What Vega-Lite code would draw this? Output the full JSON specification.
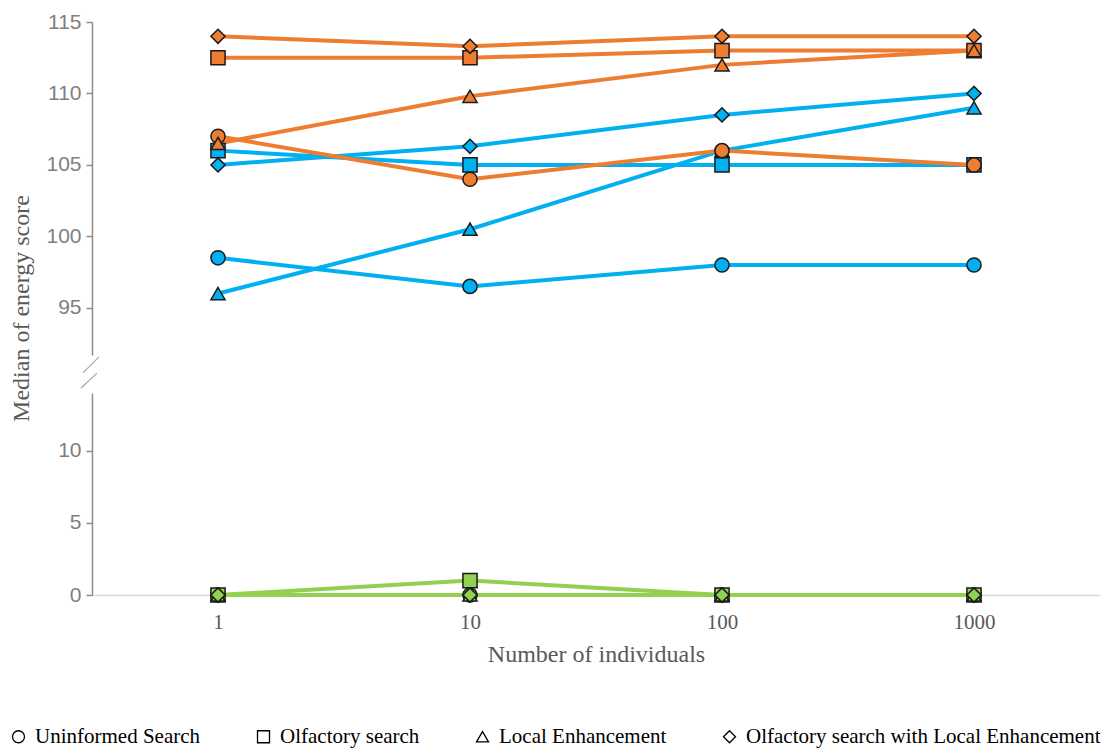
{
  "$schema": "https://vega.github.io/schema/vega-lite/v6.json",
  "padding": {"left": 8, "top": 11, "right": 4, "bottom": 4},
  "bounds": "flush",
  "spacing": 38,
  "config": {"view": {"stroke": null}, "font": "Liberation Serif"},
  "data": {
    "values": [
      {"group": "Group A", "strategy": "Uninformed Search", "n": 1, "score": 98.5},
      {"group": "Group A", "strategy": "Uninformed Search", "n": 10, "score": 96.5},
      {"group": "Group A", "strategy": "Uninformed Search", "n": 100, "score": 98},
      {"group": "Group A", "strategy": "Uninformed Search", "n": 1000, "score": 98},
      {"group": "Group A", "strategy": "Olfactory search", "n": 1, "score": 106},
      {"group": "Group A", "strategy": "Olfactory search", "n": 10, "score": 105},
      {"group": "Group A", "strategy": "Olfactory search", "n": 100, "score": 105},
      {"group": "Group A", "strategy": "Olfactory search", "n": 1000, "score": 105},
      {"group": "Group A", "strategy": "Local Enhancement", "n": 1, "score": 96},
      {"group": "Group A", "strategy": "Local Enhancement", "n": 10, "score": 100.5},
      {"group": "Group A", "strategy": "Local Enhancement", "n": 100, "score": 106},
      {"group": "Group A", "strategy": "Local Enhancement", "n": 1000, "score": 109},
      {"group": "Group A", "strategy": "Olfactory search with Local Enhancement", "n": 1, "score": 105},
      {"group": "Group A", "strategy": "Olfactory search with Local Enhancement", "n": 10, "score": 106.3},
      {"group": "Group A", "strategy": "Olfactory search with Local Enhancement", "n": 100, "score": 108.5},
      {"group": "Group A", "strategy": "Olfactory search with Local Enhancement", "n": 1000, "score": 110},
      {"group": "Group B", "strategy": "Uninformed Search", "n": 1, "score": 107},
      {"group": "Group B", "strategy": "Uninformed Search", "n": 10, "score": 104},
      {"group": "Group B", "strategy": "Uninformed Search", "n": 100, "score": 106},
      {"group": "Group B", "strategy": "Uninformed Search", "n": 1000, "score": 105},
      {"group": "Group B", "strategy": "Olfactory search", "n": 1, "score": 112.5},
      {"group": "Group B", "strategy": "Olfactory search", "n": 10, "score": 112.5},
      {"group": "Group B", "strategy": "Olfactory search", "n": 100, "score": 113},
      {"group": "Group B", "strategy": "Olfactory search", "n": 1000, "score": 113},
      {"group": "Group B", "strategy": "Local Enhancement", "n": 1, "score": 106.5},
      {"group": "Group B", "strategy": "Local Enhancement", "n": 10, "score": 109.8},
      {"group": "Group B", "strategy": "Local Enhancement", "n": 100, "score": 112},
      {"group": "Group B", "strategy": "Local Enhancement", "n": 1000, "score": 113},
      {"group": "Group B", "strategy": "Olfactory search with Local Enhancement", "n": 1, "score": 114},
      {"group": "Group B", "strategy": "Olfactory search with Local Enhancement", "n": 10, "score": 113.3},
      {"group": "Group B", "strategy": "Olfactory search with Local Enhancement", "n": 100, "score": 114},
      {"group": "Group B", "strategy": "Olfactory search with Local Enhancement", "n": 1000, "score": 114},
      {"group": "Group C", "strategy": "Uninformed Search", "n": 1, "score": 0},
      {"group": "Group C", "strategy": "Uninformed Search", "n": 10, "score": 0},
      {"group": "Group C", "strategy": "Uninformed Search", "n": 100, "score": 0},
      {"group": "Group C", "strategy": "Uninformed Search", "n": 1000, "score": 0},
      {"group": "Group C", "strategy": "Olfactory search", "n": 1, "score": 0},
      {"group": "Group C", "strategy": "Olfactory search", "n": 10, "score": 1},
      {"group": "Group C", "strategy": "Olfactory search", "n": 100, "score": 0},
      {"group": "Group C", "strategy": "Olfactory search", "n": 1000, "score": 0},
      {"group": "Group C", "strategy": "Local Enhancement", "n": 1, "score": 0},
      {"group": "Group C", "strategy": "Local Enhancement", "n": 10, "score": 0},
      {"group": "Group C", "strategy": "Local Enhancement", "n": 100, "score": 0},
      {"group": "Group C", "strategy": "Local Enhancement", "n": 1000, "score": 0},
      {"group": "Group C", "strategy": "Olfactory search with Local Enhancement", "n": 1, "score": 0},
      {"group": "Group C", "strategy": "Olfactory search with Local Enhancement", "n": 10, "score": 0},
      {"group": "Group C", "strategy": "Olfactory search with Local Enhancement", "n": 100, "score": 0},
      {"group": "Group C", "strategy": "Olfactory search with Local Enhancement", "n": 1000, "score": 0}
    ]
  },
  "vconcat": [
    {
      "width": 1008,
      "height": 333,
      "layer": [
        {
          "transform": [{"filter": "datum.score > 50"}],
          "mark": {"type": "line", "strokeWidth": 4},
          "encoding": {
            "x": {"field": "n", "type": "quantitative", "scale": {"type": "log", "domain": [0.316227766, 3162.27766], "nice": false}, "axis": null},
            "y": {
              "field": "score", "type": "quantitative",
              "scale": {"domain": [91.7, 115], "nice": false, "zero": false},
              "axis": {
                "values": [95, 100, 105, 110, 115],
                "grid": false,
                "labelFont": "Liberation Sans", "labelFontSize": 21, "labelColor": "#7f7f7f", "labelPadding": 5,
                "domainColor": "#8c8c8c", "domainWidth": 1.5, "tickColor": "#8c8c8c", "tickSize": 6, "tickWidth": 1.5,
                "title": "Median of energy score",
                "titleFont": "Liberation Serif", "titleFontSize": 24, "titleFontWeight": "normal", "titleColor": "#595959",
                "titleY": 286, "titlePadding": 12
              }
            },
            "detail": {"field": "strategy"},
            "color": {"field": "group", "type": "nominal", "scale": {"domain": ["Group A", "Group B", "Group C"], "range": ["#00B0F0", "#ED7D31", "#92D050"]}, "legend": null}
          }
        },
        {
          "transform": [{"filter": "datum.score > 50"}],
          "mark": {"type": "point", "filled": false, "size": 200, "stroke": "#1a1a1a", "strokeWidth": 1.5, "opacity": 1},
          "encoding": {
            "x": {"field": "n", "type": "quantitative"},
            "y": {"field": "score", "type": "quantitative"},
            "fill": {"field": "group", "type": "nominal", "scale": {"domain": ["Group A", "Group B", "Group C"], "range": ["#00B0F0", "#ED7D31", "#92D050"]}, "legend": null},
            "shape": {
              "field": "strategy", "type": "nominal",
              "scale": {"domain": ["Uninformed Search", "Olfactory search", "Local Enhancement", "Olfactory search with Local Enhancement"], "range": ["circle", "square", "triangle-up", "diamond"]},
              "legend": {
                "title": null, "orient": "none", "legendX": -84, "legendY": 704, "direction": "horizontal", "columns": 4,
                "columnPadding": 52, "labelFont": "Liberation Serif", "labelFontSize": 21, "labelColor": "#000000",
                "labelOffset": 6, "symbolSize": 144, "labelLimit": 600,
                "symbolFillColor": "white", "symbolStrokeColor": "black", "symbolStrokeWidth": 1.3
              }
            }
          }
        },
        {
          "data": {"values": [{"a": 1}]},
          "mark": {"type": "rule", "color": "#a6a6a6", "strokeWidth": 1.2, "clip": false},
          "encoding": {
            "x": {"datum": 0.3372, "type": "quantitative"},
            "y": {"datum": 91.57, "type": "quantitative"},
            "x2": {"datum": 0.2912},
            "y2": {"datum": 90.45}
          }
        }
      ]
    },
    {
      "width": 1008,
      "height": 202,
      "layer": [
        {
          "transform": [{"filter": "datum.score < 50"}],
          "mark": {"type": "line", "strokeWidth": 4},
          "encoding": {
            "x": {
              "field": "n", "type": "quantitative", "scale": {"type": "log", "domain": [0.316227766, 3162.27766], "nice": false},
              "axis": {
                "values": [1, 10, 100, 1000], "format": "d", "grid": false,
                "labelAngle": 0, "ticks": false, "labelFont": "Liberation Serif", "labelFontSize": 21, "labelColor": "#595959", "labelPadding": 16,
                "domainColor": "#d9d9d9", "domainWidth": 1.5,
                "title": "Number of individuals", "titleFont": "Liberation Serif", "titleFontSize": 24, "titleFontWeight": "normal", "titleColor": "#595959", "titlePadding": 10
              }
            },
            "y": {
              "field": "score", "type": "quantitative",
              "scale": {"domain": [0, 14], "nice": false},
              "axis": {
                "values": [0, 5, 10],
                "grid": false,
                "labelFont": "Liberation Sans", "labelFontSize": 21, "labelColor": "#7f7f7f", "labelPadding": 5,
                "domainColor": "#8c8c8c", "domainWidth": 1.5, "tickColor": "#8c8c8c", "tickSize": 6, "tickWidth": 1.5,
                "title": null
              }
            },
            "detail": {"field": "strategy"},
            "color": {"field": "group", "type": "nominal", "scale": {"domain": ["Group A", "Group B", "Group C"], "range": ["#00B0F0", "#ED7D31", "#92D050"]}, "legend": null}
          }
        },
        {
          "transform": [{"filter": "datum.score < 50"}],
          "mark": {"type": "point", "filled": false, "size": 200, "stroke": "#1a1a1a", "strokeWidth": 1.5, "opacity": 1},
          "encoding": {
            "x": {"field": "n", "type": "quantitative"},
            "y": {"field": "score", "type": "quantitative"},
            "fill": {"field": "group", "type": "nominal", "scale": {"domain": ["Group A", "Group B", "Group C"], "range": ["#00B0F0", "#ED7D31", "#92D050"]}, "legend": null},
            "shape": {
              "field": "strategy", "type": "nominal",
              "scale": {"domain": ["Uninformed Search", "Olfactory search", "Local Enhancement", "Olfactory search with Local Enhancement"], "range": ["circle", "square", "triangle-up", "diamond"]}
            }
          }
        },
        {
          "data": {"values": [{"a": 1}]},
          "mark": {"type": "rule", "color": "#a6a6a6", "strokeWidth": 1.2, "clip": false},
          "encoding": {
            "x": {"datum": 0.3310, "type": "quantitative"},
            "y": {"datum": 15.38, "type": "quantitative"},
            "x2": {"datum": 0.2860},
            "y2": {"datum": 14.35}
          }
        }
      ]
    }
  ]
}
